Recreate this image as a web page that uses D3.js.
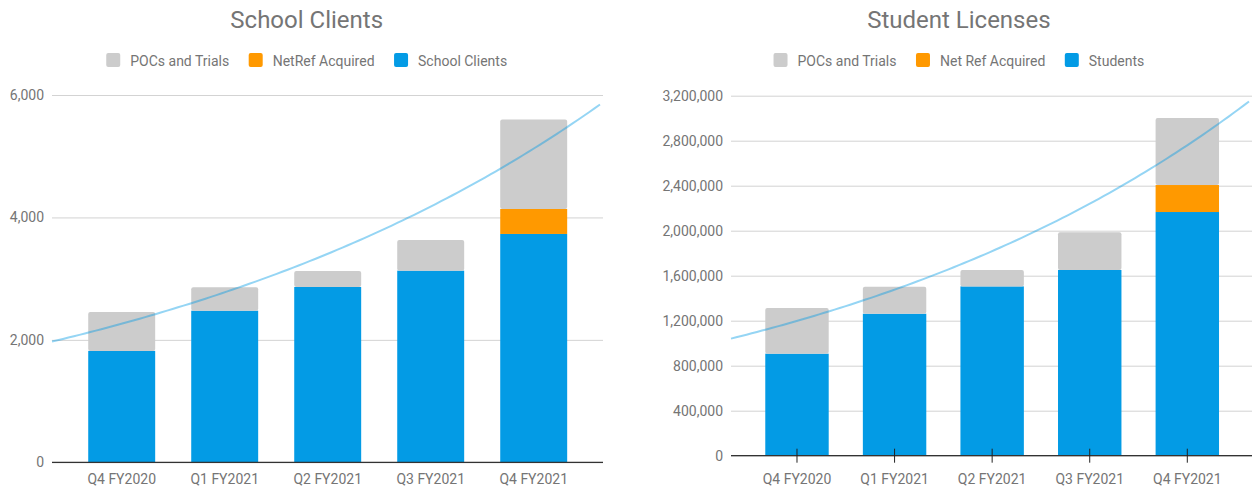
<!DOCTYPE html>
<html>
<head>
<meta charset="utf-8">
<script src="https://cdn.jsdelivr.net/npm/d3@7"></script>
<style>
  body { margin: 0; background: #fff; }
  svg { display: block; font-family: Roboto, "Noto Sans", sans-serif; }
</style>
</head>
<body>
<svg id="chart"></svg>
<script>
// data
let quarters = ["Q4 FY2020", "Q1 FY2021", "Q2 FY2021", "Q3 FY2021", "Q4 FY2021"]

let schoolClients = [1820, 2477, 2864, 3131, 3730]
let schoolNetRef = [0, 0, 0, 0, 409]
let schoolPocs = [635, 382, 262, 501, 1459]
let schoolTicks = [0, 2000, 4000, 6000]

let studentCounts = [907000, 1262000, 1505000, 1651000, 2166000]
let studentNetRef = [0, 0, 0, 0, 240000]
let studentPocs = [406000, 240000, 146000, 335000, 596000]
let studentTicks = [0, 400000, 800000, 1200000, 1600000, 2000000, 2400000, 2800000, 3200000]

let width = 1252
let height = 487

let colors = { poc: "#cccccc", netref: "#ff9900", main: "#039be5" }
let textColor = "#757575"

let svg = d3.select("#chart").attr("width", width).attr("height", height)

// exponential trendline y = a*e^(b*i): log-linear least squares weighted by y
let expFit = (ys) => {
    let sw = d3.sum(ys)
    let mx = d3.sum(ys, (y, i) => y * i) / sw
    let ml = d3.sum(ys, (y) => y * Math.log(y)) / sw
    let cov = d3.sum(ys, (y, i) => y * (i - mx) * (Math.log(y) - ml))
    let vr = d3.sum(ys, (y, i) => y * (i - mx) * (i - mx))
    let b = cov / vr
    let a = Math.exp(ml - b * mx)
    return { a: a, b: b }
}

let drawChart = (cfg) => {
    let g = svg.append("g")

    let rows = quarters.map((q, i) => ({
        q: q, main: cfg.main[i], netref: cfg.netref[i], poc: cfg.poc[i]
    }))
    let stack = d3.stack().keys(["main", "netref", "poc"])(rows)

    let xScale = d3.scaleBand()
        .domain(quarters)
        .range(cfg.bandRange)
        .paddingInner(cfg.padInner)
        .paddingOuter(cfg.padInner / 2)

    let yScale = d3.scaleLinear()
        .domain([0, d3.max(cfg.ticks)])
        .range([cfg.bottom, cfg.top])

    // gridlines + labels
    let yAxis = d3.axisLeft(yScale)
        .tickValues(cfg.ticks)
        .tickFormat(d3.format(","))
        .tickSize(-(cfg.plotRight - cfg.plotLeft))
        .tickPadding(8)

    let ya = g.append("g")
        .attr("transform", "translate(" + cfg.plotLeft + ",0)")
        .call(yAxis)
    ya.select(".domain").remove()
    ya.selectAll("line").attr("stroke", "#d3d3d3").attr("stroke-width", 1)
    ya.selectAll("text")
        .attr("x", cfg.labelRight - cfg.plotLeft)
        .attr("fill", textColor)
        .style("font-size", "14px")
        .style("font-family", "Roboto")

    // bars
    stack.forEach((layer) => {
        g.append("g")
            .selectAll("rect")
            .data(layer.filter((d) => d[1] > d[0]))
            .enter()
            .append("rect")
            .attr("x", (d) => xScale(d.data.q))
            .attr("width", xScale.bandwidth())
            .attr("y", (d) => yScale(d[1]))
            .attr("height", (d) => yScale(d[0]) - yScale(d[1]))
            .attr("rx", layer.key === "poc" ? 2 : 0)
            .attr("fill", colors[layer.key])
    })

    // trendline over the stacked totals
    let totals = rows.map((r) => r.main + r.netref + r.poc)
    let fit = expFit(totals)
    let idx = d3.scaleLinear()
        .domain([0, quarters.length - 1])
        .range([xScale(quarters[0]) + xScale.bandwidth() / 2,
                xScale(quarters[quarters.length - 1]) + xScale.bandwidth() / 2])
    let i0 = idx.invert(cfg.plotLeft)
    let i1 = idx.invert(cfg.plotRight - 3)
    let pts = d3.range(0, 101).map((k) => i0 + (i1 - i0) * k / 100)
    let line = d3.line()
        .x((t) => idx(t))
        .y((t) => yScale(fit.a * Math.exp(fit.b * t)))
    g.append("path")
        .datum(pts)
        .attr("d", line)
        .attr("fill", "none")
        .attr("stroke", colors.main)
        .attr("stroke-opacity", 0.42)
        .attr("stroke-width", 2)

    // baseline
    g.append("line")
        .attr("x1", cfg.plotLeft).attr("x2", cfg.plotRight)
        .attr("y1", yScale(0)).attr("y2", yScale(0))
        .attr("stroke", "#333").attr("stroke-width", 1.3)

    // x labels
    let xAxis = d3.axisBottom(xScale)
        .tickSize(cfg.xTicks ? 7 : 0)
        .tickPadding(cfg.xTicks ? 11.4 : 11.8)
    let xa = g.append("g")
        .attr("transform", "translate(0," + yScale(0) + ")")
        .call(xAxis)
    xa.select(".domain").remove()
    if (cfg.xTicks) {
        xa.selectAll("line").attr("stroke", "#222").attr("y1", -7)
    } else {
        xa.selectAll("line").remove()
    }
    xa.selectAll("text")
        .attr("fill", textColor)
        .style("font-size", "14px")
        .style("font-family", "Roboto")

    // title
    g.append("text")
        .text(cfg.title)
        .attr("x", cfg.center)
        .attr("y", 28)
        .attr("text-anchor", "middle")
        .attr("fill", textColor)
        .style("font-size", "24px")
        .style("font-family", "Roboto")

    // legend, centered under the title
    let legend = g.append("g")
    let lx = 0
    let items = [["poc", cfg.legend[0]], ["netref", cfg.legend[1]], ["main", cfg.legend[2]]]
    items.forEach((it) => {
        legend.append("rect")
            .attr("x", lx).attr("y", 53)
            .attr("width", 14).attr("height", 14)
            .attr("rx", 2)
            .attr("fill", colors[it[0]])
        let t = legend.append("text")
            .text(it[1])
            .attr("x", lx + 24)
            .attr("y", 66)
            .attr("fill", textColor)
            .style("font-size", "14px")
            .style("font-family", "Roboto")
        lx += 24 + t.node().getComputedTextLength() + 19.5
    })
    let lw = lx - 19.5
    legend.attr("transform", "translate(" + (cfg.center - lw / 2) + ",0)")
}

drawChart({
    title: "School Clients",
    legend: ["POCs and Trials", "NetRef Acquired", "School Clients"],
    main: schoolClients, netref: schoolNetRef, poc: schoolPocs,
    ticks: schoolTicks,
    center: 306.7,
    plotLeft: 52, plotRight: 603,
    labelRight: 44,
    bandRange: [70.2, 585.2], padInner: 0.35,
    top: 95, bottom: 462.3,
    xTicks: false
})

drawChart({
    title: "Student Licenses",
    legend: ["POCs and Trials", "Net Ref Acquired", "Students"],
    main: studentCounts, netref: studentNetRef, poc: studentPocs,
    ticks: studentTicks,
    center: 958.9,
    plotLeft: 731, plotRight: 1252,
    labelRight: 723,
    bandRange: [748.2, 1236.1], padInner: 0.35,
    top: 95.7, bottom: 455.7,
    xTicks: true
})
</script>
</body>
</html>
